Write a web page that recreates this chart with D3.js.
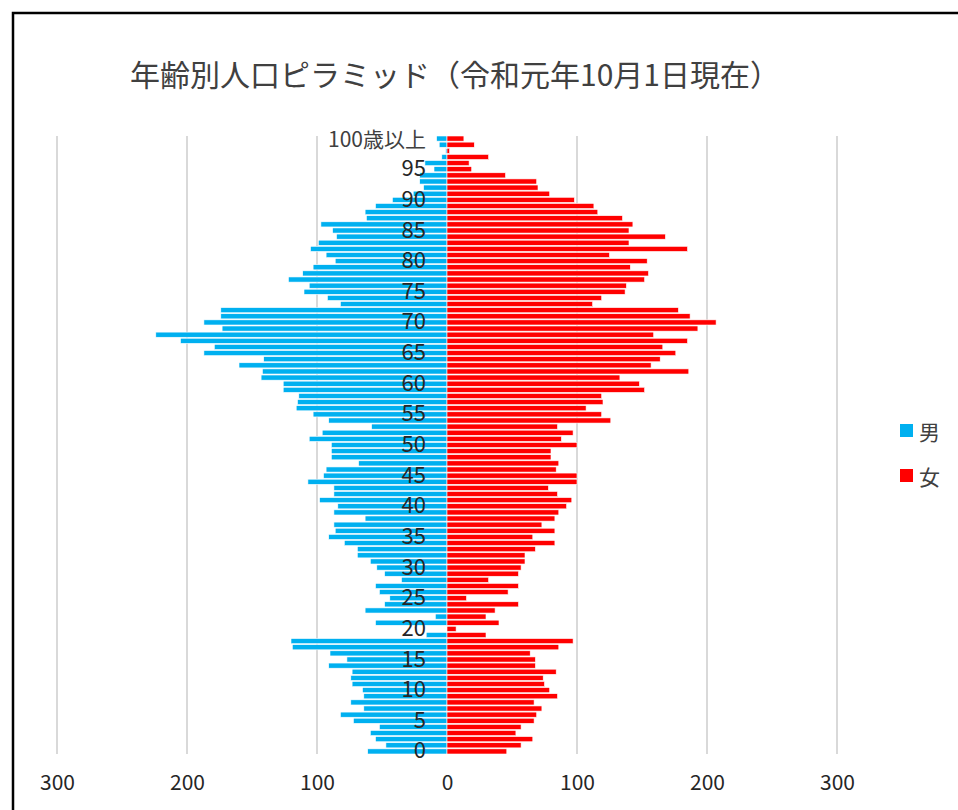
<!DOCTYPE html>
<html>
<head>
<meta charset="utf-8">
<script src="https://cdn.jsdelivr.net/npm/d3@7"></script>
<style>
  body { margin: 0; background: #fff; }
  text { font-family: "Noto Sans CJK JP", "Noto Sans", sans-serif; }
</style>
</head>
<body>
<svg id="chart" width="958" height="810"></svg>
<script>
// Population by single year of age, 0 … 100 (last entry = 100 and over)
const ages = d3.range(0, 101);
const male = [
  61, 47, 55, 59, 52, 72, 82, 64, 74, 64,
  65, 73, 74, 73, 91, 77, 90, 119, 120, 16,
  0, 55, 9, 63, 48, 44, 52, 55, 35, 48,
  54, 59, 69, 69, 79, 91, 86, 87, 63, 87,
  84, 98, 87, 87, 107, 95, 93, 68, 89, 89,
  89, 106, 96, 58, 91, 103, 116, 115, 114, 126,
  126, 143, 142, 160, 141, 187, 179, 205, 224, 173,
  187, 174, 174, 82, 92, 110, 106, 122, 111, 103,
  86, 93, 105, 99, 85, 88, 97, 62, 63, 55,
  42, 26, 18, 21, 21, 10, 17, 4, 1, 6,
  8
];
const female = [
  46, 57, 66, 53, 57, 67, 69, 73, 67, 85,
  79, 75, 74, 84, 68, 68, 64, 86, 97, 30,
  7, 40, 30, 37, 55, 15, 47, 55, 32, 55,
  57, 60, 60, 68, 83, 66, 83, 73, 83, 86,
  92, 96, 85, 78, 100, 100, 84, 86, 80, 80,
  100, 88, 97, 85, 126, 119, 107, 120, 119, 152,
  148, 133, 186, 157, 164, 176, 166, 185, 159, 193,
  207, 187, 178, 112, 119, 137, 138, 152, 155, 141,
  154, 125, 185, 140, 168, 140, 143, 135, 116, 113,
  98, 79, 70, 69, 45, 19, 17, 32, 2, 21,
  13
];
const ageTicks = d3.range(0, 101, 5);
const valueTicks = [-300, -200, -100, 0, 100, 200, 300];
const seriesNames = ["男", "女"];
const colors = ["#00B0F0", "#FF0000"];
const title = "年齢別人口ピラミッド（令和元年10月1日現在）";

const svg = d3.select("#chart");
const titleColor = "#404040";
const labelColor = "#262626";

// chart frame
svg.append("rect")
  .attr("x", 13).attr("y", 13)
  .attr("width", 1200).attr("height", 1000)
  .attr("fill", "#fff").attr("stroke", "#000").attr("stroke-width", 2.5);

svg.append("text")
  .attr("x", 130).attr("y", 73)
  .attr("dominant-baseline", "central")
  .attr("font-size", 30)
  .attr("fill", titleColor)
  .text(title);

const x = d3.scaleLinear().domain([-300, 300]).range([57, 837]);
const y = d3.scaleBand()
  .domain(ages.slice().reverse())
  .range([136, 754])
  .paddingInner(0.16);

// vertical gridlines
svg.append("g")
  .selectAll("line")
  .data(valueTicks.filter(d => d !== 0))
  .join("line")
  .attr("x1", d => x(d)).attr("x2", d => x(d))
  .attr("y1", 136).attr("y2", 754)
  .attr("stroke", "#d9d9d9").attr("stroke-width", 2);

// male bars to the left, female bars to the right
const bars = svg.append("g");
bars.selectAll("rect.m")
  .data(ages)
  .join("rect")
  .attr("class", "m")
  .attr("x", d => x(-male[d]))
  .attr("y", d => y(d))
  .attr("width", d => x(0) - x(-male[d]))
  .attr("height", y.bandwidth())
  .attr("fill", colors[0])
  .attr("stroke", "#fff").attr("stroke-width", 0.6);
bars.selectAll("rect.f")
  .data(ages)
  .join("rect")
  .attr("class", "f")
  .attr("x", x(0))
  .attr("y", d => y(d))
  .attr("width", d => x(female[d]) - x(0))
  .attr("height", y.bandwidth())
  .attr("fill", colors[1])
  .attr("stroke", "#fff").attr("stroke-width", 0.6);

// age labels next to the centre axis
const yAxis = d3.axisLeft(y)
  .tickValues(ageTicks)
  .tickSize(0)
  .tickPadding(21)
  .tickFormat(d => d === 100 ? "100歳以上" : d);
const gy = svg.append("g")
  .attr("transform", `translate(${x(0)},0)`)
  .call(yAxis);
gy.select(".domain").remove();
gy.selectAll("text")
  .attr("font-size", 22)
  .attr("fill", labelColor)
  .style("font-family", '"Noto Sans CJK JP", sans-serif');
gy.selectAll(".tick")
  .filter(d => d === 100)
  .select("text")
  .attr("font-size", 21)
  .attr("dy", "0.42em")
  .attr("fill", "#404040");

// value axis along the bottom
const xAxis = d3.axisBottom(x)
  .tickValues(valueTicks)
  .tickSize(0)
  .tickPadding(0)
  .tickFormat(d => Math.abs(d));
const gx = svg.append("g")
  .attr("transform", "translate(0,775)")
  .call(xAxis);
gx.select(".domain").remove();
gx.selectAll("text")
  .attr("font-size", 21)
  .attr("fill", labelColor)
  .style("font-family", '"Noto Sans CJK JP", sans-serif');

// legend
const legend = svg.append("g")
  .selectAll("g")
  .data(seriesNames)
  .join("g")
  .attr("transform", (d, i) => `translate(900,${424 + i * 45})`);
legend.append("rect")
  .attr("width", 13).attr("height", 13)
  .attr("fill", (d, i) => colors[i]);
legend.append("text")
  .attr("x", 19).attr("y", 7)
  .attr("dominant-baseline", "central")
  .attr("font-size", 21)
  .attr("fill", titleColor)
  .text(d => d);
</script>
</body>
</html>
